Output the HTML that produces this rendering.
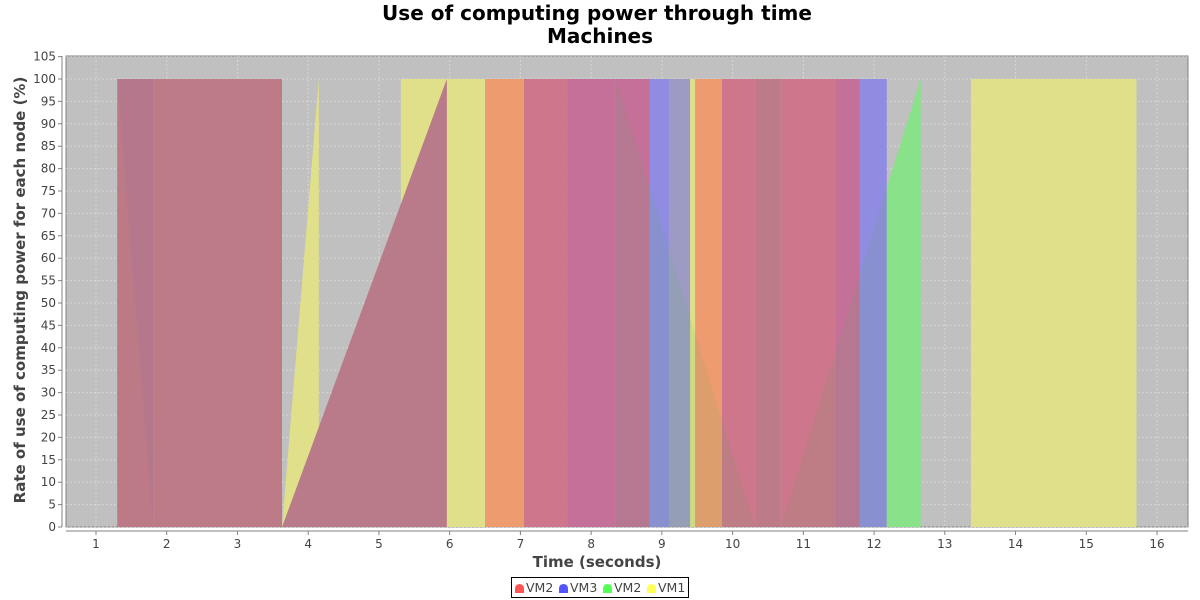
<!DOCTYPE html>
<html><head><meta charset="utf-8"><style>
body{margin:0;background:#fff;font-family:"Liberation Sans","DejaVu Sans",sans-serif}
svg{display:block}
</style></head><body>
<svg id="c" width="1200" height="600" xmlns="http://www.w3.org/2000/svg" style="font-family:'DejaVu Sans','Liberation Sans',sans-serif">
<defs>
<clipPath id="plotClip"><rect x="66" y="56" width="1122" height="471"/></clipPath>
<clipPath id="greenClip"><rect id="gcr" x="0" y="56" width="1200" height="471"/></clipPath>
</defs>
<text x="597" y="20" text-anchor="middle" font-size="20" font-weight="bold">Use of computing power through time</text>
<text x="600" y="43" text-anchor="middle" font-size="20" font-weight="bold">Machines</text>
<rect x="66" y="56" width="1122" height="471" fill="#c0c0c0" stroke="#808080"/>
<g id="grid"></g>
<g id="marks" clip-path="url(#plotClip)"></g>
<g id="axes"></g>
<text x="597" y="567" text-anchor="middle" font-size="15" font-weight="bold" fill="#444">Time (seconds)</text>
<text transform="translate(25,290) rotate(-90)" text-anchor="middle" font-size="15" font-weight="bold" fill="#444">Rate of use of computing power for each node (%)</text>
<g>
<rect x="511.5" y="577.5" width="177" height="20" fill="#fff" stroke="#000"/>
<g id="legend"></g>
</g>
</svg>
<script>
const xTicks=[1,2,3,4,5,6,7,8,9,10,11,12,13,14,15,16];
const yTicks=[0,5,10,15,20,25,30,35,40,45,50,55,60,65,70,75,80,85,90,95,100,105];
const bandStarts=[1.30,1.81,5.31,5.96,6.50,7.05,7.66,8.35,8.83,9.10,9.40,9.47,9.85,10.33,10.68,11.45,11.80,13.37];
const bandEnds=[1.81,3.63,5.96,6.50,7.05,7.66,8.35,8.83,9.10,9.40,9.47,9.85,10.33,10.68,11.45,11.80,12.18,15.71];
const bandValues=[100,100,100,100,100,100,100,100,100,100,100,100,100,100,100,100,100,100];
const bandColors=["#bb7a86","#bc7b86","#e0e08a","#e0e08a","#ef9b70","#cd768c","#c47098","#c47098","#8f8ce1","#9d9bc3","#e0e08a","#ef9b70","#cd768c","#bc7b86","#cd768c","#c47098","#8f8ce1","#e0e08a"];
const yellowSpikeX=[3.63,4.15,4.15];
const yellowSpikeY=[0,100,0];
const redRiseX=[3.63,5.96,5.96];
const redRiseY=[0,100,0];
const fallX=[8.35,10.32,8.35];
const fallY=[100,0,0];
const riseX=[10.68,12.66,12.66];
const riseY=[0,100,0];
const legendNames=["VM2","VM3","VM2","VM1"];
const legendColors=["#ff5555","#5555ff","#55ff55","#ffff55"];

const NS="http://www.w3.org/2000/svg";
const X0=96,X1=1157,Y0=527,Y100=79;
function sx(v){return X0+(v-1)*(X1-X0)/15;}
function sy(v){return Y0-v*(Y0-Y100)/100;}
function mk(tag,attrs,parent){const e=document.createElementNS(NS,tag);for(const k in attrs)e.setAttribute(k,attrs[k]);parent.appendChild(e);return e;}
const grid=document.getElementById('grid'),marks=document.getElementById('marks'),axes=document.getElementById('axes'),legend=document.getElementById('legend');

xTicks.forEach(t=>{
  const l=mk('line',{x1:sx(t),x2:sx(t),y1:56,y2:527,stroke:'#ffffff','stroke-opacity':0.35,'stroke-dasharray':'2,2','stroke-width':1},grid);
  
  
  const tk=mk('line',{x1:sx(t),x2:sx(t),y1:531,y2:535,stroke:'#808080'},axes);
  
  
  const tx=mk('text',{x:sx(t),y:548,'text-anchor':'middle','font-size':12,fill:'#444'},axes);
  tx.textContent=t;
  
  
});
yTicks.forEach(t=>{
  const l=mk('line',{x1:66,x2:1188,y1:sy(t),y2:sy(t),stroke:'#ffffff','stroke-opacity':0.35,'stroke-dasharray':'2,2','stroke-width':1},grid);
  
  
  const tk=mk('line',{x1:58,x2:62,y1:sy(t),y2:sy(t),stroke:'#808080'},axes);
  
  
  const tx=mk('text',{x:56,y:sy(t)+4,'text-anchor':'end','font-size':12,fill:'#444'},axes);
  tx.textContent=t;
  
  
});
const ax=mk('line',{x1:62,x2:62,y1:56,y2:527,stroke:'#808080'},axes);


const axx=mk('line',{x1:66,x2:1188,y1:531,y2:531,stroke:'#808080'},axes);



function poly(xs,ys,fill,parent,name,extra){
  const pts=xs.map((x,i)=>sx(x)+','+sy(ys[i])).join(' ');
  const p=mk('polygon',Object.assign({points:pts,fill:fill},extra||{}),parent);
  
  
  return p;
}
bandStarts.forEach((s,i)=>{
  const r=mk('rect',{x:sx(s),y:sy(bandValues[i]),width:sx(bandEnds[i])-sx(s),height:sy(0)-sy(bandValues[i]),fill:bandColors[i]},marks);
  
  
});
poly([bandStarts[0],bandEnds[0],bandEnds[0]],[100,100,0],'rgba(85,85,255,0.05)',marks,'vm-fall-triangle');
poly(yellowSpikeX,yellowSpikeY,'#e0e08a',marks,'vm1-spike');
poly(redRiseX,redRiseY,'#b97a89',marks,'vm2-rise');
poly(fallX,fallY,'rgba(90,180,90,0.13)',marks,'vm2-fall');
poly(riseX,riseY,'rgba(90,180,90,0.13)',marks,'vm2-green-rise-overlay');
document.getElementById('gcr').setAttribute('x',sx(12.18));
poly(riseX,riseY,'#89e189',marks,'vm2-green-rise',{'clip-path':'url(#greenClip)'});

let lx=515;
legendNames.forEach((n,i)=>{
  const m=mk('path',{d:`M${lx} 593 L${lx} 589 Q${lx} 584 ${lx+4.5} 584 Q${lx+9} 584 ${lx+9} 589 L${lx+9} 593 Z`,fill:legendColors[i]},legend);
  
  
  const t=mk('text',{x:lx+11,y:592,'font-size':12.5,fill:'#444'},legend);
  t.textContent=n;
  
  
  lx+=44;
});
</script>
</body></html>
